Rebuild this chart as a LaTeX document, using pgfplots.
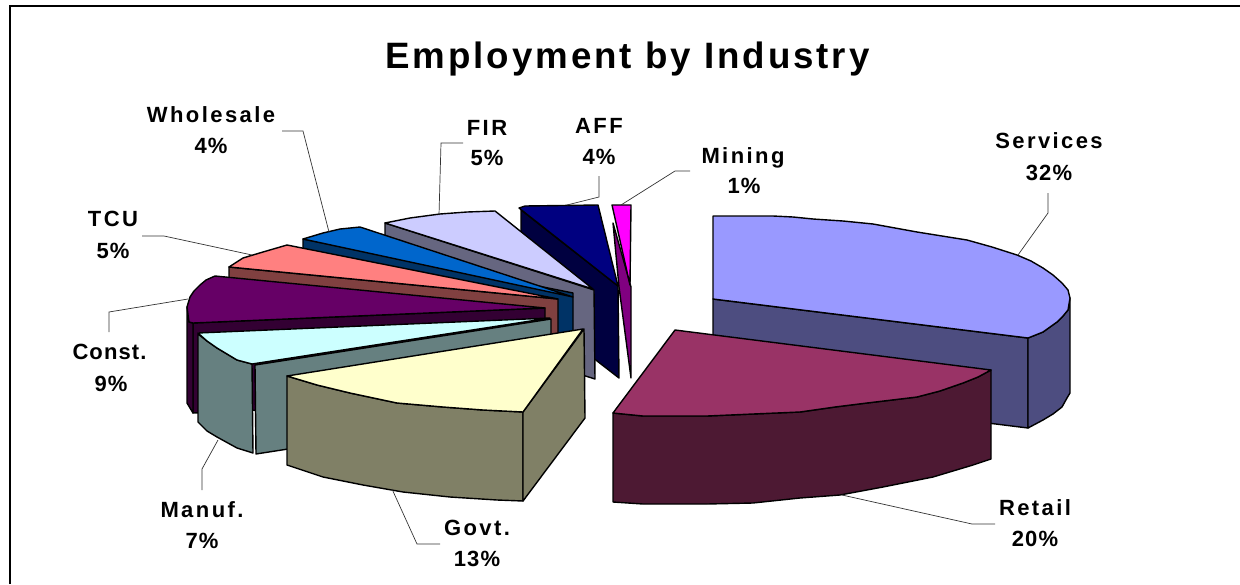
\documentclass[border=0pt]{standalone}
\usepackage{pgfplots}
\pgfplotsset{compat=1.18}
\usepackage{fontspec}
\setmainfont{Liberation Sans}
\newfontfamily\titlef[LetterSpace=8]{Liberation Sans}
\newfontfamily\namef[LetterSpace=11]{Liberation Sans}
\newfontfamily\namec[LetterSpace=5]{Liberation Sans}
\newfontfamily\pctf[LetterSpace=5]{Liberation Sans}
\definecolor{svcT}{HTML}{9999FF}\definecolor{svcW}{HTML}{4D4D80}
\definecolor{retT}{HTML}{993366}\definecolor{retW}{HTML}{4D1933}
\definecolor{govT}{HTML}{FFFFCC}\definecolor{govW}{HTML}{808066}
\definecolor{manT}{HTML}{CCFFFF}\definecolor{manW}{HTML}{668080}
\definecolor{conT}{HTML}{660066}\definecolor{conW}{HTML}{330033}
\definecolor{tcuT}{HTML}{FF8080}\definecolor{tcuW}{HTML}{804040}
\definecolor{whoT}{HTML}{0066CC}\definecolor{whoW}{HTML}{003366}
\definecolor{firT}{HTML}{CCCCFF}\definecolor{firW}{HTML}{666680}
\definecolor{affT}{HTML}{000080}\definecolor{affW}{HTML}{000040}
\definecolor{minT}{HTML}{FF00FF}\definecolor{minW}{HTML}{800080}
\newcommand{\nm}[3]{\node[anchor=base,inner sep=0pt] at (axis cs:#1,#2) {\fontsize{22}{22}\selectfont\namef\bfseries #3};}
\newcommand{\pc}[3]{\node[anchor=base,inner sep=0pt] at (axis cs:#1,#2) {\fontsize{22}{22}\selectfont\pctf\bfseries #3};}
\begin{document}
\begin{tikzpicture}
\begin{axis}[
  scale only axis, width=1240pt, height=584pt,
  xmin=0, xmax=1240, ymin=0, ymax=584, y dir=reverse,
  hide axis, clip=true,
  face/.style={draw=black, line width=1.4pt, line join=round},
  leader/.style={draw=black!80, line width=0.7pt},
]
% page extent
\addplot[draw=none] coordinates {(0,0) (1240,584)};
% frame
\addplot[black, line width=2pt] coordinates {(9.5,584) (9.5,6) (1240,6)};
% Mining
\addplot[face, fill=minW] coordinates {(613,223) (619,287) (631,378) (631,287)} -- cycle;
\addplot[face, fill=minT] coordinates {(612,205) (631,205) (630,285)} -- cycle;
% AFF
\addplot[face, fill=affW] coordinates {(521,210) (618,286) (619,378) (521,302)} -- cycle;
\addplot[face, fill=affT] coordinates {(519,208) (525,206) (598,205) (618,286)} -- cycle;
% FIR
\addplot[face, fill=firW] coordinates {(385,223) (594,290) (595,379) (385,313)} -- cycle;
\addplot[face, fill=firT] coordinates {(385,223) (410,218) (440,214) (467,212) (495,211) (593,289)} -- cycle;
% Wholesale
\addplot[face, fill=whoW] coordinates {(303,239) (573,293) (573,383) (303,329)} -- cycle;
\addplot[face, fill=whoT] coordinates {(303,239) (323,233) (340,229) (360,227) (573,297)} -- cycle;
% TCU
\addplot[face, fill=tcuW] coordinates {(229,267) (558,299) (558,389) (229,357)} -- cycle;
\addplot[face, fill=tcuT] coordinates {(229,267) (243,258) (263,252) (287,245) (558,299)} -- cycle;
% Const
\addplot[face, fill=conW] coordinates {(193,323) (545,308) (545,398) (193,413)} -- cycle;
\addplot[face, fill=conW] coordinates {(187,307) (189,322) (193,323) (193,413) (187,403)} -- cycle;
\addplot[face, fill=conT] coordinates {(215,276) (206,280) (200,285) (194,291) (190,297) (187,307) (189,322) (193,323) (545,308)} -- cycle;
% Manuf
\addplot[face, fill=manW] coordinates {(255,365) (551,319) (551,408) (256,454)} -- cycle;
\addplot[face, fill=manW] coordinates {(198,334) (207,341) (217,348) (237,360) (252,364) (253,453) (237,448) (217,437) (207,431) (198,422)} -- cycle;
\addplot[face, fill=manT] coordinates {(198,333) (550,318) (252,364) (237,360) (217,348) (207,341)} -- cycle;
% Govt
\addplot[face, fill=govW] coordinates {(287,376) (317,385) (350,393) (397,403) (443,407) (483,410) (523,412) (523,501) (497,500) (450,497) (403,492) (363,485) (323,477) (287,465)} -- cycle;
\addplot[face, fill=govW] coordinates {(523,412) (584,329) (585,418) (523,501)} -- cycle;
\addplot[face, fill=govT] coordinates {(287,376) (583,329) (523,412) (483,410) (443,407) (397,403) (350,393) (317,385)} -- cycle;
% Services
\addplot[face, fill=svcW] coordinates {(713,299) (1028,338) (1028,428) (713,389)} -- cycle;
\addplot[face, fill=svcW] coordinates {(1028,338) (1043,332) (1050,327) (1057,322) (1063,316) (1068,310) (1070,298) (1070,393) (1067,398) (1062,407) (1053,414) (1043,420) (1028,428)} -- cycle;
\addplot[face, fill=svcT] coordinates {(713,299) (713,216) (773,216) (793,217) (813,219) (843,221) (873,224) (895,228) (917,232) (942,236) (967,240) (992,247) (1017,255) (1031,261) (1043,268) (1053,275) (1062,283) (1068,290) (1070,298) (1068,310) (1063,316) (1057,322) (1050,327) (1043,332) (1028,338)} -- cycle;
% Retail
\addplot[face, fill=retW] coordinates {(613,413) (643,416) (707,416) (753,414) (800,412) (835,407) (867,403) (892,400) (917,397) (940,391) (963,383) (978,377) (991,370) (991,459) (973,465) (953,471) (933,477) (908,482) (883,487) (840,495) (800,498) (753,503) (707,504) (643,504) (613,502)} -- cycle;
\addplot[face, fill=retT] coordinates {(675,330) (991,370) (978,377) (963,383) (940,391) (917,397) (892,400) (867,403) (835,407) (800,412) (753,414) (707,416) (643,416) (613,413)} -- cycle;
% leaders
\addplot[leader] coordinates {(282,131) (303,131) (329,232)};
\addplot[leader] coordinates {(142,236) (164,236) (252,255)};
\addplot[leader] coordinates {(109,332) (109,312) (188,299)};
\addplot[leader] coordinates {(463,143) (441,143) (439,215)};
\addplot[leader] coordinates {(599,176) (599,197) (567,205)};
\addplot[leader] coordinates {(690,171) (675,171) (621,205)};
\addplot[leader] coordinates {(1048,193) (1048,213) (1018,255)};
\addplot[leader] coordinates {(842,495) (972,524) (995,524)};
\addplot[leader] coordinates {(392,489) (417,544) (440,544)};
\addplot[leader] coordinates {(218,440) (202,469) (202,490)};
% text
\node[anchor=base,inner sep=0pt] at (axis cs:627.5,68) {\fontsize{36.7}{37}\selectfont\titlef\bfseries Employment by Industry};
\nm{1049}{148}{Services}\pc{1049}{180}{32\%}
\nm{1035}{515}{Retail}\pc{1035}{546}{20\%}
\nm{477}{535}{Govt.}\pc{477}{566}{13\%}
\nm{202}{517}{Manuf.}\pc{202}{548}{7\%}
\node[anchor=base,inner sep=0pt] at (axis cs:109.5,359) {\fontsize{22}{22}\selectfont\namec\bfseries Const.};
\pc{111}{391}{9\%}
\nm{113}{226}{TCU}\pc{113}{258}{5\%}
\nm{211}{122}{Wholesale}\pc{211}{153}{4\%}
\nm{487}{135}{FIR}\pc{487}{165}{5\%}
\nm{599}{133}{AFF}\pc{599}{164}{4\%}
\nm{743}{163}{Mining}\pc{744}{193}{1\%}
\end{axis}
\end{tikzpicture}
\end{document}
